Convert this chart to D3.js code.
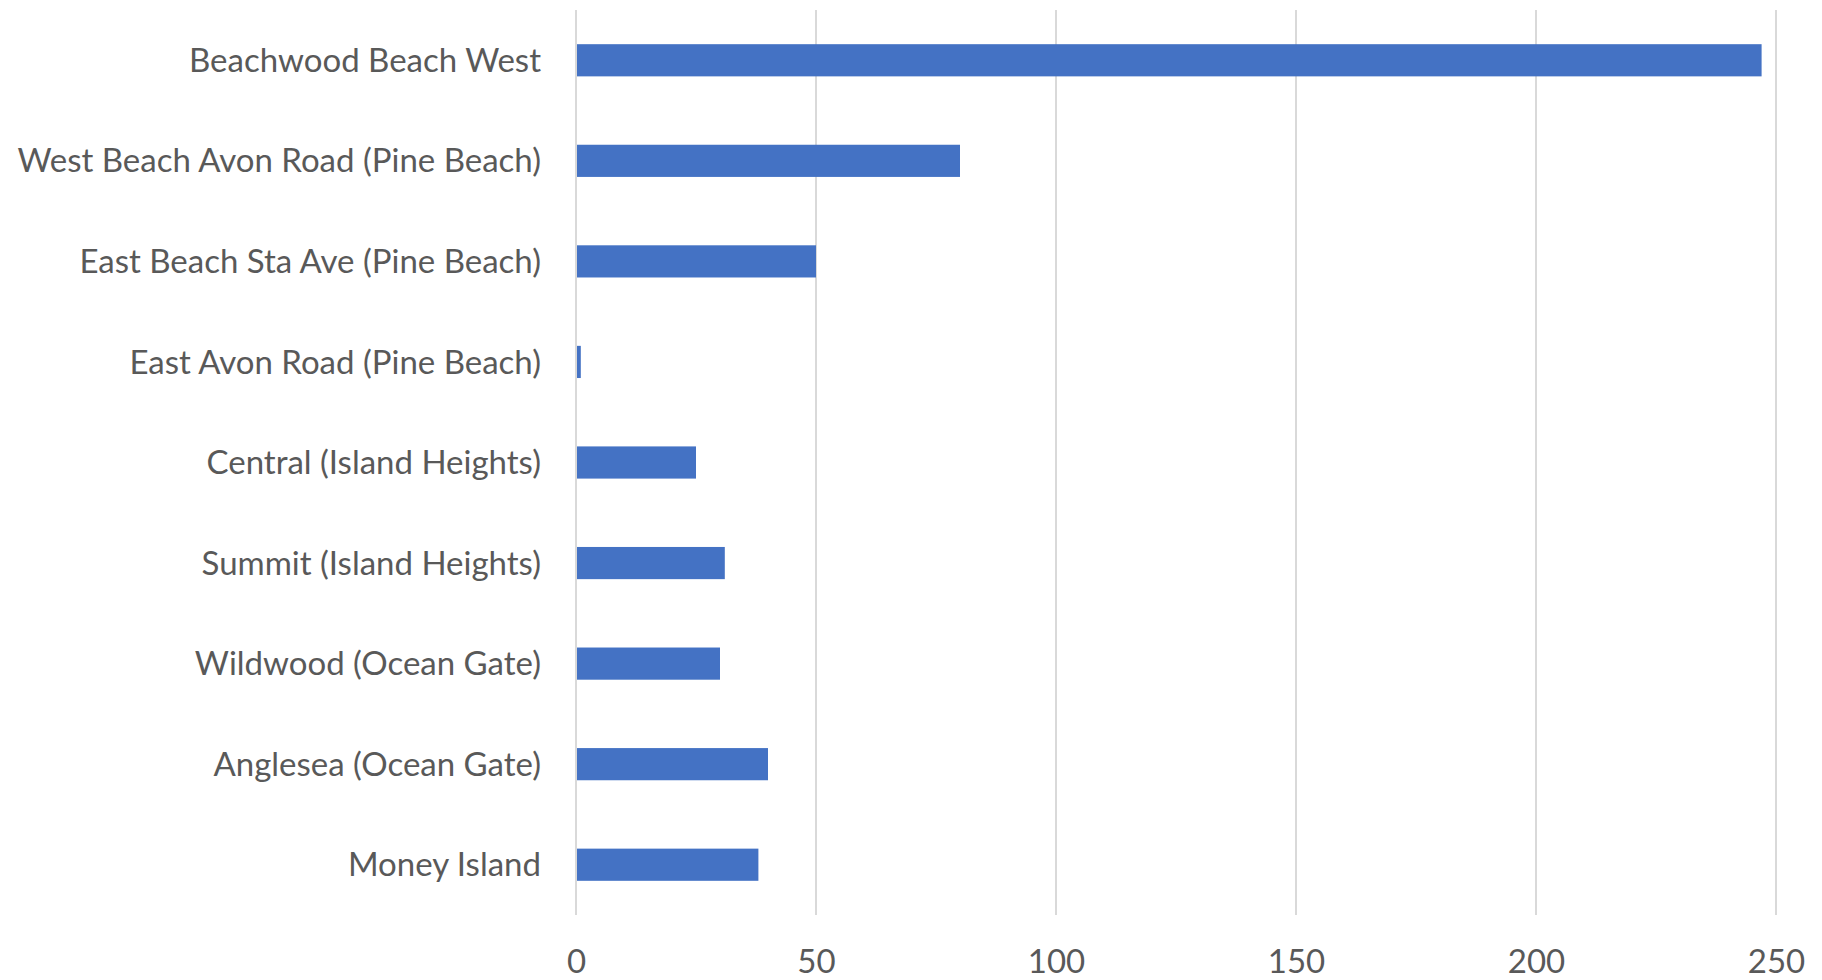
<!DOCTYPE html>
<html>
<head>
<meta charset="utf-8">
<script src="https://cdn.jsdelivr.net/npm/d3@7"></script>
<style>
  html, body { margin: 0; padding: 0; background: #ffffff; }
  svg { display: block; }
</style>
</head>
<body>
<svg id="chart" width="1822" height="980"></svg>
<script>
const categories = [
  "Beachwood Beach West",
  "West Beach Avon Road (Pine Beach)",
  "East Beach Sta Ave (Pine Beach)",
  "East Avon Road (Pine Beach)",
  "Central (Island Heights)",
  "Summit (Island Heights)",
  "Wildwood (Ocean Gate)",
  "Anglesea (Ocean Gate)",
  "Money Island"
];
const values = [247, 80, 50, 1, 25, 31, 30, 40, 38];
const xTicks = [0, 50, 100, 150, 200, 250];

const svg = d3.select("#chart");
const margin = { left: 576, right: 46, top: 10, bottom: 65 };
const W = 1822, H = 980;

const x = d3.scaleLinear().domain([0, 250]).range([margin.left, W - margin.right]);
const y = d3.scaleBand().domain(categories).range([margin.top, H - margin.bottom]).paddingInner(0.68).paddingOuter(0.34);

const font = "Lato, 'Open Sans', sans-serif";
const textColor = "#595959";

// gridlines
svg.append("g")
  .selectAll("line")
  .data(xTicks)
  .join("line")
  .attr("x1", d => x(d)).attr("x2", d => x(d))
  .attr("y1", margin.top).attr("y2", H - margin.bottom)
  .attr("stroke", "#d9d9d9")
  .attr("stroke-width", 2);

// bars
svg.append("g")
  .selectAll("rect")
  .data(values)
  .join("rect")
  .attr("x", x(0) + 1)
  .attr("y", (d, i) => y(categories[i]))
  .attr("width", d => Math.max(0, x(d) - x(0) - 1))
  .attr("height", y.bandwidth())
  .attr("fill", "#4472C4");

// x axis tick labels
const xAxis = d3.axisBottom(x).tickValues(xTicks).tickSize(0).tickPadding(0);
const gx = svg.append("g")
  .attr("transform", `translate(0, ${H - margin.bottom})`)
  .call(xAxis);
gx.select(".domain").remove();
gx.selectAll("text")
  .attr("dy", null)
  .attr("y", 58)
  .attr("fill", textColor)
  .style("font-family", font)
  .style("font-size", "33px");

// y axis labels
const yAxis = d3.axisLeft(y).tickSize(0).tickPadding(0);
const gy = svg.append("g")
  .attr("transform", `translate(${margin.left - 35}, 0)`)
  .call(yAxis);
gy.select(".domain").remove();
gy.selectAll("text")
  .attr("fill", textColor)
  .attr("dy", "0.35em")
  .style("font-family", font)
  .style("font-size", "33px");
</script>
</body>
</html>
